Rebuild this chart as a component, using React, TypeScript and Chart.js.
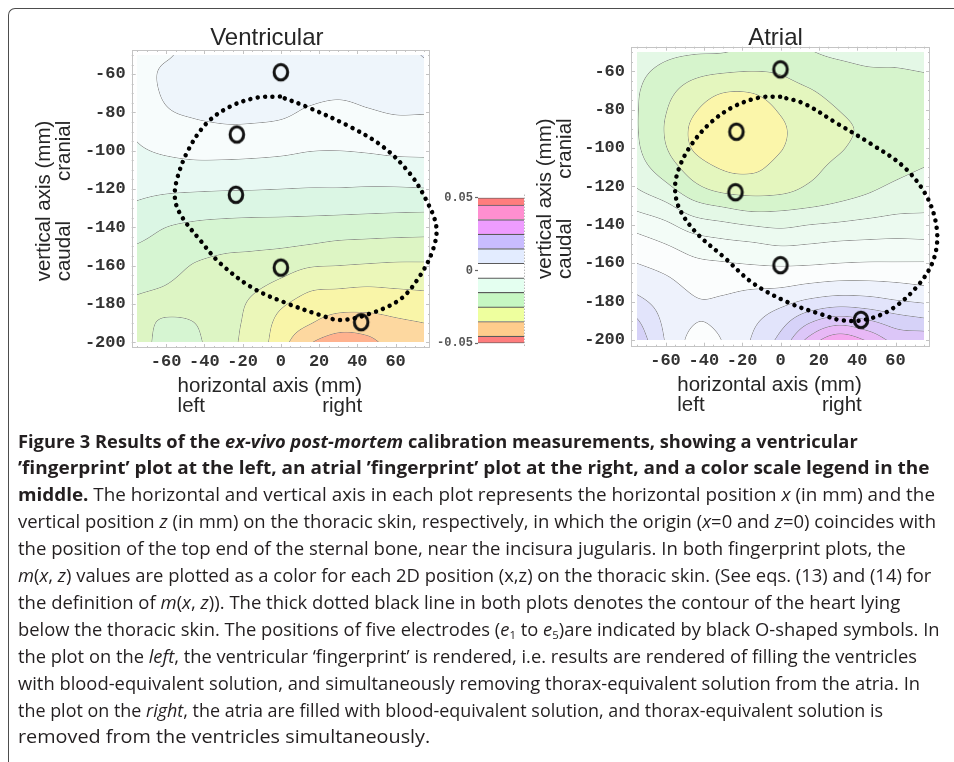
import React, { useEffect, useLayoutEffect, useRef } from 'react';
import { Chart, registerables } from 'chart.js';

Chart.register(...registerables);

// ------------------------------------------------------------------ DATA
// sampling grid of the fingerprint maps (mm)
const gridX = [-75, -60, -45, -30, -15, 0, 15, 30, 45, 60, 75];
const gridZ = [-50, -60, -70, -80, -90, -100, -110, -120, -130, -140, -150, -160, -170, -180, -190, -200];

// m(x,z) ventricular fingerprint, one row per gridZ, one column per gridX
const mVentricular = [
  [0.0010, 0.0020, 0.0040, 0.0042, 0.0042, 0.0040, 0.0038, 0.0040, 0.0042, 0.0055, 0.0078],
  [0.0003, 0.0033, 0.0042, 0.0045, 0.0046, 0.0044, 0.0040, 0.0038, 0.0040, 0.0046, 0.0060],
  [-0.0004, 0.0031, 0.0038, 0.0040, 0.0042, 0.0040, 0.0034, 0.0030, 0.0034, 0.0037, 0.0045],
  [-0.0012, 0.0020, 0.0030, 0.0032, 0.0034, 0.0032, 0.0019, 0.0013, 0.0021, 0.0027, 0.0027],
  [-0.0020, 0.0000, 0.0012, 0.0018, 0.0016, 0.0010, -0.0003, -0.0006, 0.0000, 0.0007, 0.0006],
  [-0.0030, -0.0019, -0.0012, -0.0011, -0.0013, -0.0017, -0.0024, -0.0025, -0.0022, -0.0017, -0.0016],
  [-0.0047, -0.0043, -0.0040, -0.0041, -0.0043, -0.0046, -0.0050, -0.0051, -0.0049, -0.0046, -0.0044],
  [-0.0064, -0.0068, -0.0070, -0.0072, -0.0073, -0.0075, -0.0077, -0.0077, -0.0079, -0.0079, -0.0077],
  [-0.0083, -0.0096, -0.0104, -0.0107, -0.0109, -0.0110, -0.0111, -0.0112, -0.0114, -0.0116, -0.0117],
  [-0.0106, -0.0125, -0.0134, -0.0139, -0.0141, -0.0142, -0.0145, -0.0149, -0.0152, -0.0154, -0.0156],
  [-0.0128, -0.0142, -0.0156, -0.0166, -0.0169, -0.0172, -0.0179, -0.0187, -0.0190, -0.0193, -0.0194],
  [-0.0147, -0.0158, -0.0178, -0.0187, -0.0192, -0.0204, -0.0221, -0.0225, -0.0229, -0.0232, -0.0232],
  [-0.0167, -0.0175, -0.0190, -0.0198, -0.0214, -0.0236, -0.0263, -0.0267, -0.0271, -0.0268, -0.0265],
  [-0.0181, -0.0185, -0.0193, -0.0205, -0.0232, -0.0268, -0.0294, -0.0304, -0.0307, -0.0302, -0.0296],
  [-0.0188, -0.0170, -0.0175, -0.0210, -0.0237, -0.0290, -0.0322, -0.0350, -0.0348, -0.0333, -0.0325],
  [-0.0195, -0.0160, -0.0165, -0.0212, -0.0240, -0.0305, -0.0370, -0.0400, -0.0390, -0.0352, -0.0340],
];

// m(x,z) atrial fingerprint
const mAtrial = [
  [-0.0135, -0.0160, -0.0170, -0.0173, -0.0190, -0.0195, -0.0178, -0.0165, -0.0160, -0.0163, -0.0160],
  [-0.0160, -0.0190, -0.0210, -0.0220, -0.0225, -0.0220, -0.0200, -0.0190, -0.0180, -0.0178, -0.0174],
  [-0.0170, -0.0210, -0.0245, -0.0270, -0.0270, -0.0248, -0.0228, -0.0210, -0.0200, -0.0195, -0.0190],
  [-0.0172, -0.0222, -0.0270, -0.0300, -0.0300, -0.0270, -0.0245, -0.0225, -0.0210, -0.0205, -0.0200],
  [-0.0172, -0.0228, -0.0285, -0.0315, -0.0312, -0.0282, -0.0252, -0.0235, -0.0218, -0.0210, -0.0205],
  [-0.0168, -0.0222, -0.0280, -0.0310, -0.0310, -0.0278, -0.0250, -0.0230, -0.0212, -0.0203, -0.0195],
  [-0.0155, -0.0200, -0.0250, -0.0280, -0.0285, -0.0260, -0.0238, -0.0215, -0.0200, -0.0188, -0.0175],
  [-0.0128, -0.0165, -0.0215, -0.0245, -0.0250, -0.0245, -0.0220, -0.0200, -0.0185, -0.0168, -0.0155],
  [-0.0088, -0.0115, -0.0160, -0.0180, -0.0195, -0.0190, -0.0180, -0.0168, -0.0155, -0.0140, -0.0135],
  [-0.0042, -0.0065, -0.0100, -0.0115, -0.0128, -0.0135, -0.0125, -0.0118, -0.0110, -0.0105, -0.0105],
  [-0.0005, -0.0025, -0.0050, -0.0062, -0.0070, -0.0080, -0.0075, -0.0068, -0.0065, -0.0063, -0.0065],
  [0.0025, 0.0008, -0.0015, -0.0022, -0.0028, -0.0032, -0.0030, -0.0025, -0.0022, -0.0022, -0.0022],
  [0.0055, 0.0035, 0.0012, 0.0010, 0.0012, 0.0012, 0.0022, 0.0030, 0.0030, 0.0025, 0.0017],
  [0.0088, 0.0055, 0.0028, 0.0030, 0.0045, 0.0060, 0.0085, 0.0100, 0.0095, 0.0080, 0.0070],
  [0.0130, 0.0065, 0.0027, 0.0035, 0.0065, 0.0105, 0.0165, 0.0200, 0.0180, 0.0150, 0.0135],
  [0.0160, 0.0072, 0.0012, 0.0027, 0.0078, 0.0140, 0.0240, 0.0310, 0.0270, 0.0210, 0.0210],
];

// heart contour (x mm, z mm)
const heartVentricular = [
  [-0.5, -71.7], [-12.7, -72.3], [-26.6, -77], [-38.8, -85.6], [-48.4, -99.6], [-54.4, -115.2],
  [-55.3, -125.7], [-51.8, -134.4], [-42.3, -146.6], [-31.8, -158.7], [-14.5, -171.8], [3, -179.6],
  [20.3, -185.7], [30.8, -188.4], [44.7, -185.7], [62, -177.9], [72.5, -165.7], [79.5, -151.8],
  [81.3, -139.6], [76, -125.7], [67.3, -111.7], [53.4, -97.9], [36, -87.4], [13.4, -77], [-0.5, -71.7],
];
const heartAtrial = [
  [-0.2, -73.3], [-10.7, -73.6], [-24.6, -78.5], [-36.8, -87.1], [-47.2, -99.3], [-53.3, -111.5],
  [-55, -121.9], [-52.4, -132.3], [-43.7, -144.4], [-29.8, -156.6], [-14.2, -170.5], [5, -180.9],
  [22.4, -187], [31.1, -189.6], [43.3, -189.6], [57.2, -184.4], [71.2, -172.2], [79.8, -158.3],
  [81.6, -142.7], [76.4, -125.4], [64.2, -109.7], [46.8, -97.6], [29.4, -87.1], [12, -76.7], [-0.2, -73.3],
];

// electrodes e1..e5 (x mm, z mm)
const electrodePositions = [[0, -59], [-23, -91.5], [-23.5, -123], [0, -161], [42, -189.5]];

const xTickValues = [-60, -40, -20, 0, 20, 40, 60];
const zTickValues = [-60, -80, -100, -120, -140, -160, -180, -200];

// colour scale legend
const legendEdges = [-0.05, -0.045, -0.035, -0.025, -0.015, -0.005, 0.005, 0.015, 0.025, 0.035, 0.045, 0.05];
const legendTickValues = [-0.05, 0, 0.05];
const CONTOUR_STEP = 0.005;

// ------------------------------------------------------------------ STYLES
const ventricularPalette = [
  '#ffb28e', '#fdd8a0', '#f9f5a8', '#ebf7b9', '#ddf5c4', '#d6f5d2', '#dbf6e4', '#e8f9f3',
  '#f7fcfc', '#eef5fb', '#e4ecfb', '#dcdcfa', '#d4cef9', '#dcbef9', '#eab0f6', '#f2a6ec', '#f5a0d8',
];
const atrialPalette = [
  '#ffb28e', '#fdd8a0', '#fbf6aa', '#e4f6be', '#d6f4cc', '#e4f8e6', '#ecfaf0', '#f3fcf7',
  '#fbfdfd', '#eef2fc', '#e2e4fb', '#d6d2f8', '#dcc6f8', '#e8b8f6', '#f4a6ee', '#f59ee0', '#f598d0',
];
const legendPalette = [
  '#ff7d7d', '#ffcc8c', '#eeff9e', '#c6f7c2', '#e4fff0', '#ffffff', '#e3ecff', '#c9bcff', '#ee9cff', '#ff8fd0', '#ff7d7d',
];

const MONO = '"Liberation Mono", "DejaVu Sans Mono", monospace';
const SANS = '"Liberation Sans", Arial, sans-serif';

function hexToRgb(h: string) {
  const n = parseInt(h.slice(1), 16);
  return [(n >> 16) & 255, (n >> 8) & 255, n & 255];
}

function catmull(p0: number, p1: number, p2: number, p3: number, t: number) {
  return p1 + 0.5 * t * (p2 - p0 + t * (2 * p0 - 5 * p1 + 4 * p2 - p3 + t * (3 * (p1 - p2) + p3 - p0)));
}

function sampleField(grid: number[][], x: number, z: number) {
  const nx = gridX.length, nz = gridZ.length;
  const fx = (x - gridX[0]) / (gridX[1] - gridX[0]);
  const fz = (z - gridZ[0]) / (gridZ[1] - gridZ[0]);
  const ix = Math.max(0, Math.min(nx - 2, Math.floor(fx)));
  const iz = Math.max(0, Math.min(nz - 2, Math.floor(fz)));
  const tx = fx - ix, tz = fz - iz;
  const g = (r: number, c: number): number => {
    if (r < 0) return 2 * g(0, c) - g(1, c);
    if (r > nz - 1) return 2 * g(nz - 1, c) - g(nz - 2, c);
    if (c < 0) return 2 * g(r, 0) - g(r, 1);
    if (c > nx - 1) return 2 * g(r, nx - 1) - g(r, nx - 2);
    return grid[r][c];
  };
  const col = [0, 0, 0, 0];
  for (let k = 0; k < 4; k++) {
    const r = iz - 1 + k;
    col[k] = catmull(g(r, ix - 1), g(r, ix), g(r, ix + 1), g(r, ix + 2), tx);
  }
  return catmull(col[0], col[1], col[2], col[3], tz);
}

function fieldPlugin(grid: number[][], palette: string[]) {
  const pal = palette.map(hexToRgb);
  const mid = (pal.length - 1) / 2;
  const line = [128, 128, 128];
  return {
    id: 'contourField',
    beforeDatasetsDraw(chart: any) {
      const xs = chart.scales.x, ys = chart.scales.y, ctx = chart.ctx;
      const x0 = Math.round(xs.getPixelForValue(gridX[0]));
      const x1 = Math.round(xs.getPixelForValue(gridX[gridX.length - 1]));
      const y0 = Math.round(ys.getPixelForValue(gridZ[0]));
      const y1 = Math.round(ys.getPixelForValue(gridZ[gridZ.length - 1]));
      const w = x1 - x0, h = y1 - y0;
      const F = new Float64Array(w * h);
      for (let j = 0; j < h; j++) {
        const z = ys.getValueForPixel(y0 + j + 0.5);
        for (let i = 0; i < w; i++) F[j * w + i] = sampleField(grid, xs.getValueForPixel(x0 + i + 0.5), z);
      }
      const img = ctx.createImageData(w, h);
      const d = img.data;
      for (let j = 0; j < h; j++) {
        for (let i = 0; i < w; i++) {
          const k = j * w + i, v = F[k];
          const band = Math.round(v / CONTOUR_STEP);
          const c = pal[Math.max(0, Math.min(pal.length - 1, band + mid))];
          const il = i > 0 ? k - 1 : k, ir = i < w - 1 ? k + 1 : k;
          const ju = j > 0 ? k - w : k, jd = j < h - 1 ? k + w : k;
          const gx = (F[ir] - F[il]) / (ir - il || 1);
          const gy = (F[jd] - F[ju]) / ((jd - ju) / w || 1);
          const g = Math.hypot(gx, gy) + 1e-12;
          const lvl = (Math.round(v / CONTOUR_STEP - 0.5) + 0.5) * CONTOUR_STEP;
          const dist = Math.abs(v - lvl) / g;
          const a = Math.max(0, Math.min(1, 1 - dist / 0.7)) * 0.78;
          d[4 * k] = c[0] * (1 - a) + line[0] * a;
          d[4 * k + 1] = c[1] * (1 - a) + line[1] * a;
          d[4 * k + 2] = c[2] * (1 - a) + line[2] * a;
          d[4 * k + 3] = 255;
        }
      }
      ctx.putImageData(img, x0, y0);
    },
  };
}

const framePlugin = {
  id: 'mmaFrame',
  beforeDatasetsDraw(chart: any) {
    const { ctx, chartArea: a } = chart;
    const xs = chart.scales.x, ys = chart.scales.y;
    ctx.save();
    ctx.strokeStyle = '#c4c4c4';
    ctx.lineWidth = 1;
    ctx.strokeRect(Math.round(a.left) + 0.5, Math.round(a.top) + 0.5, Math.round(a.right - a.left) - 1, Math.round(a.bottom - a.top) - 1);
    ctx.beginPath();
    for (let v = -75; v <= 75; v += 5) {
      const p = Math.round(xs.getPixelForValue(v)) + 0.5;
      const len = v % 20 === 0 ? 4 : 2;
      ctx.moveTo(p, a.bottom); ctx.lineTo(p, a.bottom - len);
      ctx.moveTo(p, a.top); ctx.lineTo(p, a.top + len);
    }
    for (let v = -200; v <= -50; v += 5) {
      const p = Math.round(ys.getPixelForValue(v)) + 0.5;
      const len = v % 20 === 0 ? 4 : 2;
      ctx.moveTo(a.left, p); ctx.lineTo(a.left + len, p);
      ctx.moveTo(a.right, p); ctx.lineTo(a.right - len, p);
    }
    ctx.stroke();
    ctx.restore();
  },
};

function labelsPlugin(title: string, titleDx: number, titleBaseline: number, yTitleDx: number) {
  return {
    id: 'plotLabels',
    afterDraw(chart: any) {
      const { ctx, chartArea: a } = chart;
      const cx = (a.left + a.right) / 2, cy = (a.top + a.bottom) / 2;
      ctx.save();
      ctx.fillStyle = '#262626';
      ctx.textBaseline = 'alphabetic';
      ctx.textAlign = 'center';
      ctx.font = `24px ${SANS}`;
      ctx.fillText(title, cx + titleDx, titleBaseline);
      ctx.font = `20.5px ${SANS}`;
      const xt = 'horizontal axis (mm)';
      const xw = ctx.measureText(xt).width;
      const xc = cx - 11;
      ctx.fillText(xt, xc, a.bottom + 44);
      ctx.textAlign = 'left';
      ctx.fillText('left', xc - xw / 2, a.bottom + 64);
      ctx.textAlign = 'right';
      ctx.fillText('right', xc + xw / 2, a.bottom + 64);
      ctx.translate(a.left + yTitleDx, cy + 2);
      ctx.rotate(-Math.PI / 2);
      const yt = 'vertical axis (mm)';
      const yw = ctx.measureText(yt).width;
      ctx.textBaseline = 'middle';
      ctx.textAlign = 'center';
      ctx.fillText(yt, 0, 0);
      ctx.textAlign = 'left';
      ctx.fillText('caudal', -yw / 2, 20);
      ctx.textAlign = 'right';
      ctx.fillText('cranial', yw / 2, 20);
      ctx.restore();
    },
  };
}

function makeElectrodeImage() {
  const c = document.createElement('canvas');
  c.width = 20; c.height = 22;
  const g = c.getContext('2d')!;
  g.strokeStyle = '#111';
  g.lineWidth = 3;
  g.beginPath();
  g.ellipse(10, 11, 6.8, 7.8, 0, 0, Math.PI * 2);
  g.stroke();
  return c;
}

function plotConfig(opts: {
  grid: number[][]; palette: string[]; heart: number[][]; title: string; titleDx: number;
  padTop: number; padRight: number; yWidth: number; xHeight: number; yMin: number; yMax: number; yTitleDx: number;
}) {
  const tickFont = { family: MONO, size: 17, weight: 'bold' as const };
  return {
    type: 'scatter' as const,
    data: {
      datasets: [
        {
          label: 'heart',
          data: opts.heart.map(([x, z]) => ({ x, y: z })),
          showLine: true,
          borderColor: '#000',
          borderWidth: 4.5,
          borderDash: [0.01, 7.4],
          borderCapStyle: 'round' as const,
          pointRadius: 0,
          tension: 0.35,
          clip: false as const,
          fill: false,
        },
        {
          label: 'electrodes',
          data: electrodePositions.map(([x, z]) => ({ x, y: z })),
          pointStyle: makeElectrodeImage(),
          pointRadius: 10,
          showLine: false,
          clip: false as const,
        },
      ],
    },
    options: {
      responsive: false,
      animation: false as const,
      events: [],
      layout: { padding: { top: opts.padTop, right: opts.padRight, bottom: 0, left: 0 } },
      plugins: { legend: { display: false }, tooltip: { enabled: false }, title: { display: false } },
      scales: {
        x: {
          type: 'linear' as const,
          min: -78,
          max: 78,
          afterBuildTicks: (s: any) => { s.ticks = xTickValues.map((v) => ({ value: v })); },
          afterFit: (s: any) => { s.height = opts.xHeight; },
          grid: { display: false, drawTicks: false },
          border: { display: false },
          ticks: { font: tickFont, color: '#333', padding: 4, maxRotation: 0, minRotation: 0, autoSkip: false, callback: (v: any) => String(v) },
        },
        y: {
          type: 'linear' as const,
          min: opts.yMin,
          max: opts.yMax,
          afterBuildTicks: (s: any) => { s.ticks = zTickValues.map((v) => ({ value: v })); },
          afterFit: (s: any) => { s.width = opts.yWidth; },
          grid: { display: false, drawTicks: false },
          border: { display: false },
          ticks: { font: tickFont, color: '#333', padding: 6, autoSkip: false, callback: (v: any) => String(v) },
        },
      },
    },
    plugins: [fieldPlugin(opts.grid, opts.palette), framePlugin, labelsPlugin(opts.title, opts.titleDx, 45, opts.yTitleDx)],
  };
}

const legendFramePlugin = {
  id: 'legendFrame',
  afterDraw(chart: any) {
    const { ctx, chartArea: a } = chart;
    ctx.save();
    ctx.strokeStyle = '#9a9a9a';
    ctx.setLineDash([1, 2]);
    ctx.beginPath();
    ctx.moveTo(Math.round(a.right) + 0.5, a.top - 3);
    ctx.lineTo(Math.round(a.right) + 0.5, a.bottom + 3);
    ctx.stroke();
    ctx.restore();
  },
};

function legendConfig() {
  return {
    type: 'bar' as const,
    data: {
      labels: ['m'],
      datasets: legendPalette.map((color, i) => ({
        label: `band ${i}`,
        data: [[legendEdges[i], legendEdges[i + 1]]],
        backgroundColor: color,
        borderColor: '#5a5a5a',
        borderWidth: i === 0 ? { top: 1.2, bottom: 1.2, left: 0, right: 0 } : { top: 1.2, bottom: 0, left: 0, right: 0 },
        borderSkipped: false,
        grouped: false,
        barPercentage: 1,
        categoryPercentage: 1,
      })),
    },
    options: {
      responsive: false,
      animation: false as const,
      events: [],
      layout: { padding: { top: 12.7, right: 6, bottom: 11.7, left: 0 } },
      plugins: { legend: { display: false }, tooltip: { enabled: false } },
      scales: {
        x: { display: false },
        y: {
          type: 'linear' as const,
          min: -0.05,
          max: 0.05,
          afterBuildTicks: (s: any) => { s.ticks = legendTickValues.map((v) => ({ value: v })); },
          afterFit: (s: any) => { s.width = 58; },
          grid: { display: true, drawOnChartArea: false, drawTicks: true, tickLength: 3, tickColor: '#666', tickWidth: 1.2 },
          border: { display: false },
          ticks: {
            font: { family: MONO, size: 12, weight: 'bold' as const },
            color: '#555',
            padding: 2,
            autoSkip: false,
            callback: (v: any) => (Number(v) === 0 ? '0' : Number(v).toFixed(2)),
          },
        },
      },
    },
    plugins: [legendFramePlugin],
  };
}

function ChartCanvas(props: { left: number; top: number; width: number; height: number; make: () => any }) {
  const ref = useRef<HTMLCanvasElement>(null);
  useEffect(() => {
    const chart = new Chart(ref.current as HTMLCanvasElement, props.make());
    return () => chart.destroy();
  }, []);
  return (
    <canvas
      ref={ref}
      width={props.width}
      height={props.height}
      style={{ position: 'absolute', left: props.left, top: props.top, width: props.width, height: props.height }}
    />
  );
}

// ------------------------------------------------------------------ CAPTION
const CAPTION_LEFT = 18;
const captionRight = [858, 930, 935, 936, 906, 931, 900, 940, 917, 920, 883, 430];

const B = (p: { children: any }) => <span style={{ fontWeight: 700 }}>{p.children}</span>;
const I = (p: { children: any }) => <span style={{ fontStyle: 'italic' }}>{p.children}</span>;
const Sub = (p: { children: any }) => (
  <span style={{ fontSize: '0.62em', position: 'relative', top: '0.3em' }}>{p.children}</span>
);

const captionLines = [
  <B>Figure 3 Results of the <I>ex-vivo post-mortem</I> calibration measurements, showing a ventricular</B>,
  <B>’fingerprint’ plot at the left, an atrial ’fingerprint’ plot at the right, and a color scale legend in the</B>,
  <>
    <B>middle.</B> The horizontal and vertical axis in each plot represents the horizontal position <I>x</I> (in mm) and the
  </>,
  <>
    vertical position <I>z</I> (in mm) on the thoracic skin, respectively, in which the origin (<I>x</I>=0 and <I>z</I>=0) coincides with
  </>,
  <>the position of the top end of the sternal bone, near the incisura jugularis. In both fingerprint plots, the</>,
  <>
    <I>m</I>(<I>x</I>, <I>z</I>) values are plotted as a color for each 2D position (x,z) on the thoracic skin. (See eqs. (13) and (14) for
  </>,
  <>
    the definition of <I>m</I>(<I>x</I>, <I>z</I>)). The thick dotted black line in both plots denotes the contour of the heart lying
  </>,
  <>
    below the thoracic skin. The positions of five electrodes (<I>e</I><Sub>1</Sub> to <I>e</I><Sub>5</Sub>)are indicated by black O-shaped symbols. In
  </>,
  <>
    the plot on the <I>left</I>, the ventricular ‘fingerprint’ is rendered, i.e. results are rendered of filling the ventricles
  </>,
  <>with blood-equivalent solution, and simultaneously removing thorax-equivalent solution from the atria. In</>,
  <>
    the plot on the <I>right</I>, the atria are filled with blood-equivalent solution, and thorax-equivalent solution is
  </>,
  <>removed from the ventricles simultaneously.</>,
];

function Caption() {
  const refs = useRef<(HTMLSpanElement | null)[]>([]);
  useLayoutEffect(() => {
    refs.current.forEach((el, i) => {
      if (!el) return;
      const w = el.offsetWidth;
      const target = captionRight[i] - CAPTION_LEFT;
      if (w > 0) el.style.transform = `scaleX(${target / w})`;
    });
  }, []);
  return (
    <>
      {captionLines.map((content, i) => (
        <div
          key={i}
          style={{
            position: 'absolute',
            left: CAPTION_LEFT,
            top: 441 + 26.9 * i - 13.5,
            height: 27,
            lineHeight: '27px',
            whiteSpace: 'nowrap',
            fontFamily: '"Open Sans", "Noto Sans", sans-serif',
            fontSize: 18,
            color: '#231f20',
          }}
        >
          <span
            ref={(el) => { refs.current[i] = el; }}
            style={{ display: 'inline-block', transformOrigin: '0 50%' }}
          >
            {content}
          </span>
        </div>
      ))}
    </>
  );
}

// ------------------------------------------------------------------ APP
export default function App() {
  return (
    <div style={{ position: 'fixed', left: 0, top: 0, width: 954, height: 762, overflow: 'hidden', background: '#fff' }}>
      <div
        style={{
          position: 'absolute', left: 8, top: 8, width: 1000, height: 800,
          borderLeft: '1.5px solid #4d4d4d', borderTop: '1.5px solid #4d4d4d', borderTopLeftRadius: 7,
        }}
      />
      <ChartCanvas
        left={0} top={0} width={480} height={430}
        make={() => plotConfig({
          grid: mVentricular, palette: ventricularPalette, heart: heartVentricular, title: 'Ventricular', titleDx: -14,
          padTop: 50, padRight: 50, yWidth: 131.7, xHeight: 82, yMin: -203, yMax: -47.4, yTitleDx: -87,
        })}
      />
      <ChartCanvas
        left={500} top={0} width={454} height={430}
        make={() => plotConfig({
          grid: mAtrial, palette: atrialPalette, heart: heartAtrial, title: 'Atrial', titleDx: -5,
          padTop: 46.7, padRight: 24, yWidth: 131, xHeight: 83.3, yMin: -203.5, yMax: -47.2, yTitleDx: -86,
        })}
      />
      <ChartCanvas left={420} top={185} width={110} height={170} make={legendConfig} />
      <Caption />
    </div>
  );
}
